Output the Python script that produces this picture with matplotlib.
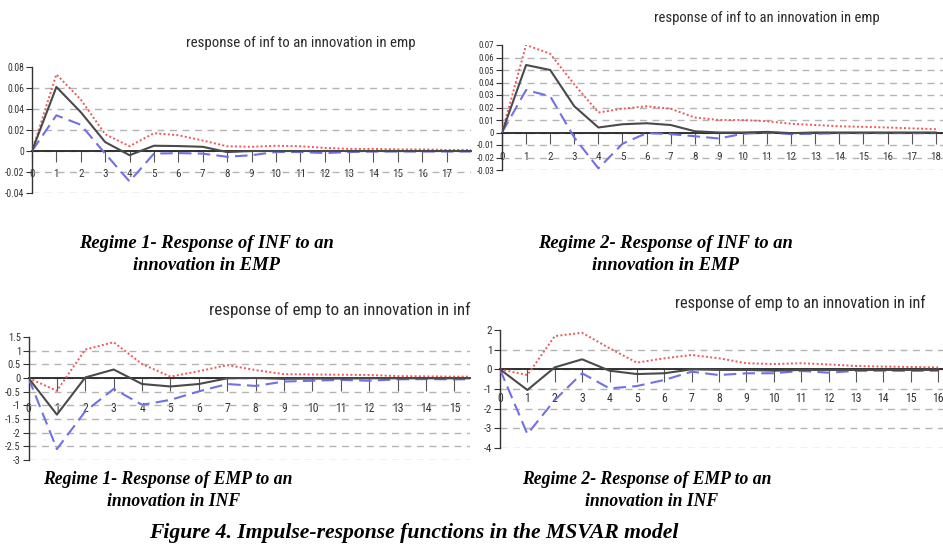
import matplotlib
matplotlib.use("Agg")
import matplotlib.pyplot as plt
from matplotlib import font_manager as fm

# ---------------- data ----------------
steps_top = list(range(19))
steps_bot = list(range(17))

# Regime 1 : response of inf to emp
r1_inf_mid = [0, 0.061, 0.037, 0.0085, -0.004, 0.005, 0.0047, 0.004, -0.001, 0, 0,
              0, 0, 0, 0, 0, 0, 0, 0]
r1_inf_up = [0, 0.073, 0.049, 0.016, 0.0045, 0.017, 0.015, 0.010, 0.0045, 0.004, 0.005,
             0.0045, 0.003, 0.002, 0.002, 0.0015, 0.0015, 0.001, 0.001]
r1_inf_lo = [0, 0.034, 0.025, -0.0025, -0.029, -0.0025, -0.002, -0.0025, -0.0055, -0.004,
             -0.001, -0.001, -0.002, -0.001, -0.0005, -0.0005, -0.0005, -0.0005, -0.0005]

# Regime 2 : response of inf to emp
r2_inf_mid = [0, 0.054, 0.050, 0.021, 0.004, 0.0066, 0.0074, 0.006, 0.001, 0, 0,
              0.0005, -0.0005, 0, 0, 0, 0, 0, 0]
r2_inf_up = [0, 0.070, 0.063, 0.0385, 0.016, 0.019, 0.021, 0.019, 0.012, 0.010, 0.010,
             0.009, 0.007, 0.006, 0.005, 0.0045, 0.004, 0.0033, 0.0027]
r2_inf_lo = [0, 0.034, 0.029, -0.004, -0.0287, -0.009, -0.0005, -0.0013, -0.003, -0.0048,
             -0.001, 0, -0.0013, -0.001, -0.0005, -0.0005, -0.0005, -0.0005, -0.0005]

# Regime 1 : response of emp to inf
r1_emp_mid = [0, -1.34, 0.02, 0.31, -0.22, -0.31, -0.22, -0.01, 0, -0.03, -0.02,
              -0.02, -0.01, -0.01, -0.01, -0.01, -0.01]
r1_emp_up = [0, -0.47, 1.04, 1.31, 0.51, 0.05, 0.25, 0.47, 0.29, 0.14, 0.13,
             0.12, 0.11, 0.07, 0.06, 0.05, 0.05]
r1_emp_lo = [0, -2.6, -1.22, -0.4, -0.98, -0.8, -0.49, -0.22, -0.29, -0.13, -0.1,
             -0.07, -0.1, -0.05, -0.04, -0.05, -0.04]

# Regime 2 : response of emp to inf
r2_emp_mid = [0, -1.05, 0.1, 0.51, -0.07, -0.24, -0.2, 0, -0.03, -0.03, -0.07,
              -0.03, -0.03, -0.03, -0.03, -0.03, -0.03]
r2_emp_up = [0, -0.29, 1.69, 1.86, 1.07, 0.34, 0.56, 0.73, 0.56, 0.31, 0.27,
             0.31, 0.25, 0.17, 0.14, 0.12, 0.10]
r2_emp_lo = [0, -3.29, -1.56, -0.2, -0.97, -0.85, -0.54, -0.12, -0.29, -0.2, -0.2,
             -0.08, -0.17, -0.08, -0.07, -0.08, -0.07]

yt_tl = [0.08, 0.06, 0.04, 0.02, 0, -0.02, -0.04]
yl_tl = ["0.08", "0.06", "0.04", "0.02", "0", "-0.02", "-0.04"]
yt_tr = [0.07, 0.06, 0.05, 0.04, 0.03, 0.02, 0.01, 0, -0.01, -0.02, -0.03]
yl_tr = ["0.07", "0.06", "0.05", "0.04", "0.03", "0.02", "0.01", "0", "-0.01", "-0.02", "-0.03"]
yt_bl = [1.5, 1, 0.5, 0, -0.5, -1, -1.5, -2, -2.5, -3]
yl_bl = ["1.5", "1", "0.5", "0", "-0.5", "-1", "-1.5", "-2", "-2.5", "-3"]
yt_br = [2, 1, 0, -1, -2, -3, -4]
yl_br = ["2", "1", "0", "-1", "-2", "-3", "-4"]

xt_tl = list(range(18))
xt_tr = list(range(19))
xt_bl = list(range(16))
xt_br = list(range(17))

title_inf = "response of inf to an innovation in emp"
title_emp = "response of emp to an innovation in inf"

# ---------------- fonts ----------------
entries = fm.fontManager.ttflist
names = {f.name for f in entries}
narrow_family, narrow_stretch = "Liberation Sans", "normal"
for cand in ["Liberation Sans Narrow", "Arial Narrow", "Roboto Condensed",
             "Open Sans Condensed", "DejaVu Sans Condensed", "Noto Sans Condensed"]:
    if cand in names:
        narrow_family = cand
        break
else:
    for base in ["DejaVu Sans", "Noto Sans", "Open Sans", "Liberation Sans"]:
        if any(f.name == base and str(f.stretch) in ("condensed", "semi-condensed", "extra-condensed")
               for f in entries):
            narrow_family, narrow_stretch = base, "condensed"
            break
serif = "Liberation Serif"

W, H = 943, 555
fig = plt.figure(figsize=(W / 100, H / 100), dpi=100)
fig.patch.set_facecolor("white")
renderer = fig.canvas.get_renderer()


def fit_text(x, y, s, target_w, size0, **kw):
    t = fig.text(x / W, 1 - y / H, s, fontsize=size0, ha="center", va="center", **kw)
    w = t.get_window_extent(renderer).width
    if w > 0:
        t.set_fontsize(size0 * target_w / w)
    return t


def px_axes(x0, x1, ytop, ybot):
    return fig.add_axes([x0 / W, 1 - ybot / H, (x1 - x0) / W, (ybot - ytop) / H])


def panel(ax, x, mid, up, lo, xlim, yticks, ylabels, xticks, ysize, xsize, xpad, xlen):
    ax.set_xlim(*xlim)
    ax.set_ylim(yticks[-1], yticks[0])
    for s in ["top", "right"]:
        ax.spines[s].set_visible(False)
    ax.spines["left"].set_color("#333333")
    ax.spines["left"].set_linewidth(1.0)
    ax.spines["bottom"].set_position(("data", 0))
    ax.spines["bottom"].set_color("#222222")
    ax.spines["bottom"].set_linewidth(1.3)
    ax.set_yticks(yticks)
    ax.set_yticklabels(ylabels, fontfamily=narrow_family, fontstretch=narrow_stretch,
                       fontsize=ysize, color="#333333")
    ax.set_xticks(xticks)
    ax.set_xticklabels([str(v) for v in xticks], fontfamily=narrow_family,
                       fontstretch=narrow_stretch, fontsize=xsize, color="#333333")
    ax.tick_params(axis="y", length=4, width=0.8, pad=1.5, color="#333333")
    ax.tick_params(axis="x", length=xlen, width=0.8, pad=xpad, color="#555555")
    ax.yaxis.grid(True, linestyle=(0, (5, 4)), color="#b4b4b4", linewidth=1.0)
    ax.get_ygridlines()[0].set_visible(False)
    ax.set_axisbelow(True)
    ax.plot(x, up, color="#f05858", linestyle=(0, (1, 1.2)), linewidth=1.4, zorder=3)
    ax.plot(x, lo, color="#7070e8", linestyle=(0, (6, 3)), linewidth=1.5, zorder=3)
    ax.plot(x, mid, color="#4a4a4a", linestyle="-", linewidth=1.5, zorder=4)
    ax.patch.set_alpha(0)


ax1 = px_axes(32, 471, 67, 193)
panel(ax1, steps_top, r1_inf_mid, r1_inf_up, r1_inf_lo, (0, 18), yt_tl, yl_tl,
      xt_tl, 7, 8, 5, 8)

ax2 = px_axes(502, 943, 45, 170)
panel(ax2, steps_top, r2_inf_mid, r2_inf_up, r2_inf_lo, (0, 18.3), yt_tr, yl_tr,
      xt_tr, 6.5, 8, 6, 8)

ax3 = px_axes(28.5, 470, 337, 460)
panel(ax3, steps_bot, r1_emp_mid, r1_emp_up, r1_emp_lo, (0, 15.55), yt_bl, yl_bl,
      xt_bl, 7.5, 8.5, 8, 9)

ax4 = px_axes(500, 943, 330, 448)
panel(ax4, steps_bot, r2_emp_mid, r2_emp_up, r2_emp_lo, (0, 16.18), yt_br, yl_br,
      xt_br, 8, 8.5, 7, 9)

title_kw = dict(fontfamily=narrow_family, fontstretch=narrow_stretch, color="#2a2a2a")
fit_text(301, 43, title_inf, 228, 11, **title_kw)
fit_text(767, 18, title_inf, 225, 11, **title_kw)
fit_text(340, 310, title_emp, 262, 11, **title_kw)
fit_text(800, 303, title_emp, 252, 11, **title_kw)

cap_kw = dict(ha="center", va="center", fontfamily=serif, fontweight="bold",
              fontstyle="italic", color="black")
fig.text(206 / W, 1 - 243 / H, "Regime 1- Response of INF to an", fontsize=13.3, **cap_kw)
fig.text(206 / W, 1 - 265 / H, "innovation in EMP", fontsize=13.3, **cap_kw)
fig.text(665 / W, 1 - 243 / H, "Regime 2- Response of INF to an", fontsize=13.3, **cap_kw)
fig.text(665 / W, 1 - 265 / H, "innovation in EMP", fontsize=13.3, **cap_kw)
fig.text(168 / W, 1 - 480 / H, "Regime 1- Response of EMP to an", fontsize=12.7, **cap_kw)
fig.text(174 / W, 1 - 501 / H, "innovation in INF", fontsize=12.7, **cap_kw)
fig.text(647 / W, 1 - 480 / H, "Regime 2- Response of EMP to an", fontsize=12.7, **cap_kw)
fig.text(652 / W, 1 - 501 / H, "innovation in INF", fontsize=12.7, **cap_kw)
fig.text(414 / W, 1 - 533 / H, "Figure 4. Impulse-response functions in the MSVAR model",
         fontsize=15.6, **cap_kw)

fig.savefig("out.png", dpi=100, facecolor="white")
